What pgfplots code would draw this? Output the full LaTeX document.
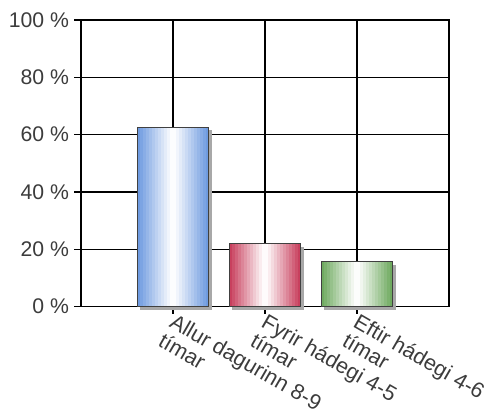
\documentclass[border=0pt]{standalone}
\usepackage{pgfplots}
\pgfplotsset{compat=1.18}
\usepackage{fontspec}
\setmainfont{Liberation Sans}
\definecolor{bblue}{HTML}{6F9BE0}
\definecolor{bred}{HTML}{C8405E}
\definecolor{bgreen}{HTML}{6FAA60}
\definecolor{txt}{HTML}{3C3C3C}
\definecolor{edge}{HTML}{404040}
\definecolor{shadowgray}{HTML}{A8A8A8}
% one layer of a bar: width, colour, percentage of the colour, coordinate
\newcommand\gbar[4]{\addplot[on layer=axis foreground, ybar, bar width=#1, bar shift=0pt, draw=none, fill=#2!#3!white, forget plot] coordinates {(#4)};}
\newcommand\gradbar[3]{%
  \addplot[on layer=axis foreground, ybar, bar width=0.78, bar shift=0pt, draw=none, fill=shadowgray, xshift=1.5pt, yshift=-1.5pt, forget plot] coordinates {(#2,#3)};
  \gbar{0.78}{#1}{100}{#2,#3}
  \gbar{0.715}{#1}{91}{#2,#3}
  \gbar{0.65}{#1}{82}{#2,#3}
  \gbar{0.585}{#1}{73}{#2,#3}
  \gbar{0.52}{#1}{64}{#2,#3}
  \gbar{0.455}{#1}{55}{#2,#3}
  \gbar{0.39}{#1}{46}{#2,#3}
  \gbar{0.325}{#1}{37}{#2,#3}
  \gbar{0.26}{#1}{28}{#2,#3}
  \gbar{0.195}{#1}{19}{#2,#3}
  \gbar{0.13}{#1}{10}{#2,#3}
  \gbar{0.065}{#1}{2}{#2,#3}
  \addplot[on layer=axis foreground, ybar, bar width=0.78, bar shift=0pt, draw=edge, line width=0.6pt, fill=none, forget plot] coordinates {(#2,#3)};
}
\begin{document}
\begin{tikzpicture}
\begin{axis}[
  at={(0pt,0pt)}, anchor=south west,
  set layers=standard,
  scale only axis,
  width=184pt, height=143.3pt,
  xmin=-1, xmax=3, ymin=0, ymax=100,
  xtick={0,1,2},
  xticklabels={{Allur dagurinn 8-9\\tímar},{Fyrir hádegi 4-5\\tímar},{Eftir hádegi 4-6\\tímar}},
  ytick={0,20,40,60,80,100},
  yticklabel={\pgfmathprintnumber{\tick}~\%},
  /pgf/number format/assume math mode=true,
  xtick pos=bottom, ytick pos=left,
  grid=major,
  major grid style={black, line width=0.65pt},
  axis line style={black, line width=0.65pt},
  tick style={black, line width=0.65pt},
  tick align=outside,
  major tick length=3.5pt,
  ticklabel style={font=\fontsize{10.6}{11.5}\selectfont, text=txt},
  yticklabel style={xshift=1pt},
  xticklabel style={xshift=1.5pt, yshift=0.75pt, rotate=-30, anchor=north west, align=left, inner sep=0pt,
    font=\fontsize{10.8}{7}\selectfont},
  clip=false,
]
\gradbar{bblue}{0}{62.5}
\gradbar{bred}{1}{21.9}
\gradbar{bgreen}{2}{15.6}
\end{axis}
\pgfresetboundingbox
\useasboundingbox (-40.5pt,-55.2pt) rectangle (204.5pt,153.3pt);
\end{tikzpicture}
\end{document}
